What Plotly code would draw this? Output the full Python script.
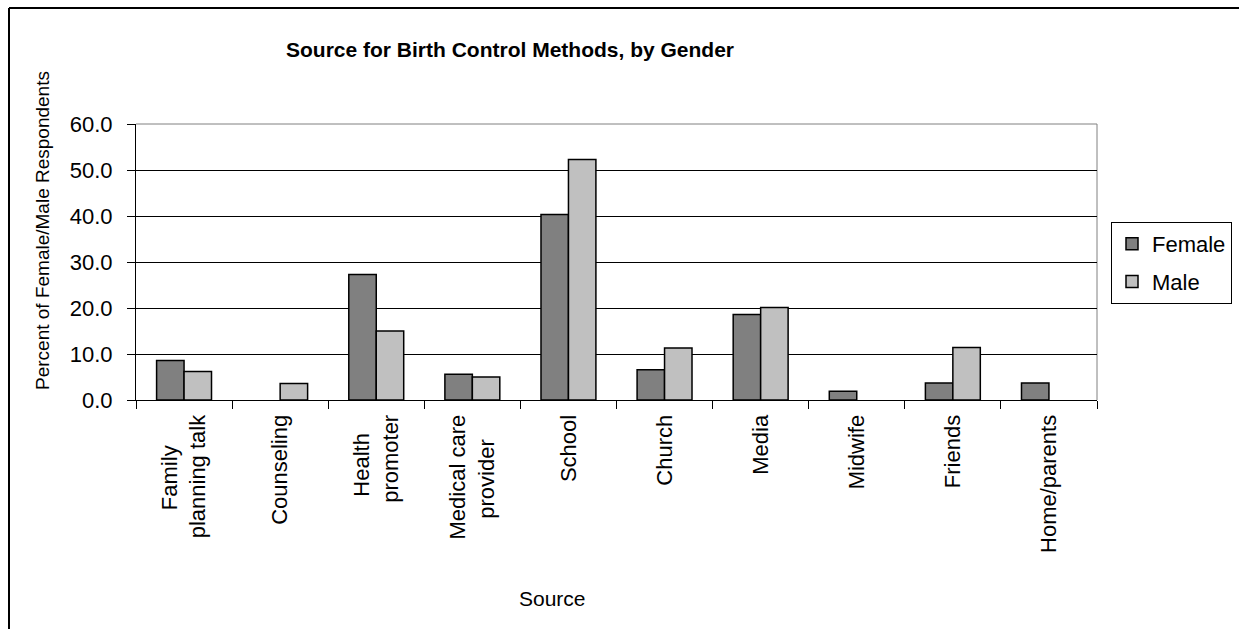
import plotly.graph_objects as go

categories = ["Family<br>planning talk", "Counseling", "Health<br>promoter", "Medical care<br>provider",
              "School", "Church", "Media", "Midwife", "Friends", "Home/parents"]
female = [8.6, 0.0, 27.3, 5.6, 40.3, 6.6, 18.6, 1.9, 3.7, 3.7]
male = [6.2, 3.6, 15.0, 5.0, 52.3, 11.3, 20.1, 0.0, 11.4, 0.0]

NB = "\u00a0"
ZW = "\u200b"
tick_labels = ["Family" + NB * 5 + ZW + "<br>planning talk", "Counseling",
               "Health" + NB * 3 + ZW + "<br>promoter",
               "Medical care<br>provider" + NB * 4 + ZW,
               "School", "Church", "Media", "Midwife", "Friends", "Home/parents"]

FONT = "Arial, Liberation Sans, sans-serif"
W, H = 1239, 629
L, R, T, B = 136, 1097, 124, 400

fig = go.Figure()
fig.add_trace(go.Bar(name="Female", x=categories, y=female, legendgroup="f",
                     marker=dict(color="#808080",
                                 line=dict(color="black", width=[1.5 if v > 0 else 0 for v in female]))))
fig.add_trace(go.Bar(name="Male", x=categories, y=male, legendgroup="m",
                     marker=dict(color="#C0C0C0",
                                 line=dict(color="black", width=[1.5 if v > 0 else 0 for v in male]))))

def px(xp):
    return (xp - L) / (R - L)

def py(yp):
    return (B - yp) / (B - T)

fig.update_layout(
    width=W, height=H,
    margin=dict(l=L, r=W - R, t=T, b=H - B, autoexpand=False),
    paper_bgcolor="white", plot_bgcolor="white",
    font=dict(family=FONT, color="black", size=22),
    barmode="group", bargap=0.4286, bargroupgap=0,
    showlegend=True,
    legend=dict(x=px(1111), y=py(222), xanchor="left", yanchor="top",
                bordercolor="black", borderwidth=1, bgcolor="white",
                font=dict(size=22, family=FONT), tracegroupgap=6,
                itemwidth=30),
    xaxis=dict(type="category", showline=True, linecolor="black", linewidth=1,
               ticks="outside", ticklen=8, tickcolor="black", tickson="boundaries",
               tickvals=categories, ticktext=tick_labels, ticklabelstandoff=5,
               tickangle=-90, tickfont=dict(size=22, family=FONT), showgrid=False,
               automargin=False),
    yaxis=dict(range=[0, 60], dtick=10, tickformat=".1f", showline=True, linecolor="black",
               linewidth=1, ticks="outside", ticklen=8, tickcolor="black",
               showgrid=True, gridcolor="black", gridwidth=1, zeroline=False,
               tickfont=dict(size=22, family=FONT), ticklabelstandoff=10, automargin=False),
    yaxis2=dict(range=[0, 60], dtick=10, overlaying="y", side="left", ticks="inside",
                ticklen=4, tickcolor="black", showticklabels=False, showgrid=False,
                zeroline=False, showline=False, automargin=False),
    title=dict(text="<b>Source for Birth Control Methods, by Gender</b>",
               x=510 / W, xanchor="center", y=1 - 50 / H, yanchor="middle",
               font=dict(size=21, family=FONT)),
)

# plot-area border (grey) on top/right
fig.add_shape(type="line", xref="paper", yref="paper", x0=0, x1=1, y0=1, y1=1,
              line=dict(color="#808080", width=1), layer="below")
fig.add_shape(type="line", xref="paper", yref="paper", x0=1, x1=1, y0=0, y1=1,
              line=dict(color="#808080", width=1), layer="below")

# outer chart border (top and left visible)
fig.add_shape(type="line", xref="paper", yref="paper", x0=px(9), x1=px(1260), y0=py(8), y1=py(8),
              line=dict(color="black", width=2))
fig.add_shape(type="line", xref="paper", yref="paper", x0=px(9), x1=px(9), y0=py(8), y1=py(660),
              line=dict(color="black", width=2))

# axis titles
fig.add_annotation(text="Percent of Female/Male Respondents", xref="paper", yref="paper",
                   x=px(42), y=py(231), textangle=-90, showarrow=False,
                   xanchor="center", yanchor="middle", font=dict(size=19, family=FONT))
fig.add_annotation(text="Source", xref="paper", yref="paper",
                   x=px(552), y=py(598), showarrow=False,
                   xanchor="center", yanchor="middle", font=dict(size=21, family=FONT))

fig.write_html("out.html", config={"displayModeBar": False},
               post_script="document.body.style.margin='0px';document.body.style.padding='0px';")
